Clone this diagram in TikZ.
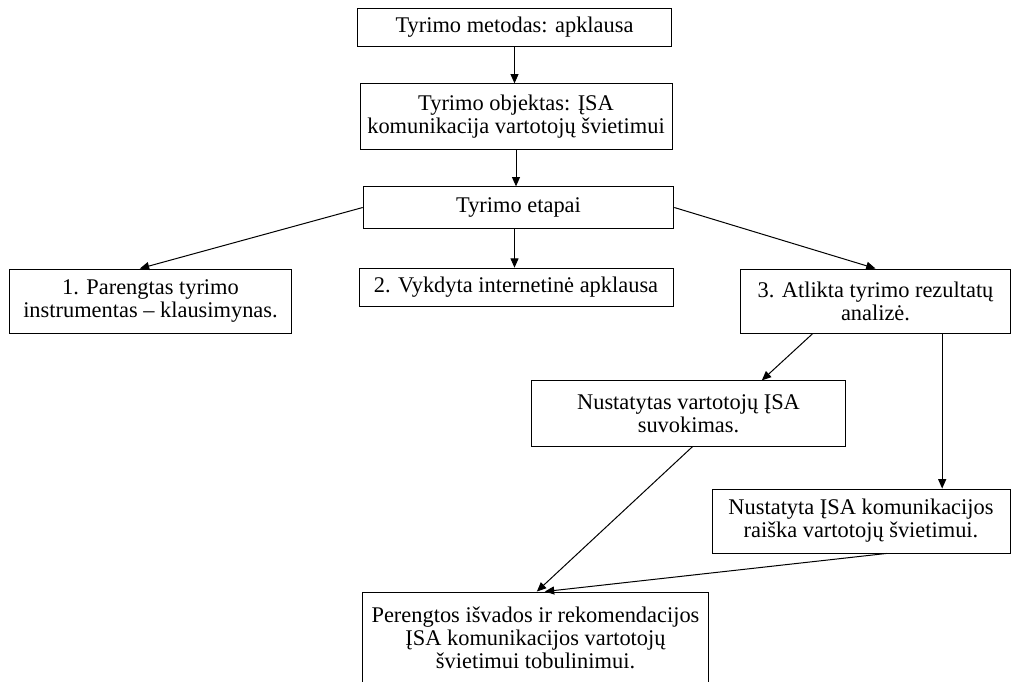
\documentclass[tikz,border=0pt]{standalone}
\usepackage{fontspec}
\setmainfont{Liberation Serif}
\usetikzlibrary{arrows.meta}
\tikzset{
  box/.style={draw, line width=0.7pt, align=center, inner sep=2pt,
    font=\fontsize{16.8}{17.25}\selectfont},
}
\begin{document}
\begin{tikzpicture}[x=0.75pt,y=-0.75pt,line width=0.75pt,>={Triangle[length=7pt,width=6pt]}]
    \clip (0,0) rectangle (1012,681);
    \node[box,minimum width=236pt,minimum height=29pt](metodas) at (514.5,27.5) {Tyrimo metodas: apklausa};
    \node[box,minimum width=234pt,minimum height=49pt](objektas) at (516,116.5) {Tyrimo objektas: ĮSA\\komunikacija vartotojų švietimui};
    \node[box,minimum width=233pt,minimum height=31pt](etapai) at (518.5,207.5) {Tyrimo etapai};
    \node[box,minimum width=212pt,minimum height=48pt](e1) at (150.5,301) {1. Parengtas tyrimo\\instrumentas -- klausimynas.};
    \node[box,minimum width=235.5pt,minimum height=29pt](e2) at (516,287.5) {2. Vykdyta internetinė apklausa};
    \node[box,minimum width=202pt,minimum height=48pt](e3) at (875.5,301) {3. Atlikta tyrimo rezultatų\\analizė.};
    \node[box,minimum width=235pt,minimum height=49pt](suvok) at (688.5,413.5) {Nustatytas vartotojų ĮSA\\suvokimas.};
    \node[box,minimum width=223.5pt,minimum height=48pt](raiska) at (861,521) {Nustatyta ĮSA komunikacijos\\raiška vartotojų švietimui.};
    \node[box,minimum width=259pt,minimum height=69pt](isvados) at (535.5,638) {Perengtos išvados ir rekomendacijos\\ĮSA komunikacijos vartotojų\\švietimui tobulinimui.};
    \draw[->] (metodas.south)--(metodas.south |- objektas.north);
    \draw[->] (objektas.south)--(objektas.south |- etapai.north);
    \draw[->] (etapai.west)--([xshift=-8pt]e1.north);
    \draw[->] ([xshift=-3pt]etapai.south)--([xshift=-3pt]etapai.south |- e2.north);
    \draw[->] (etapai.east)--(e3.north);
    \draw[->] ([xshift=-47pt]e3.south)--([xshift=55pt]suvok.north);
    \draw[->] ([xshift=50pt]e3.south)--([xshift=50pt]e3.south |- raiska.north);
    \draw[->] ([xshift=3pt]suvok.south)--([xshift=1pt]isvados.north);
    \draw[->] ([xshift=19pt]raiska.south)--([xshift=7pt]isvados.north);
\end{tikzpicture}
\end{document}
